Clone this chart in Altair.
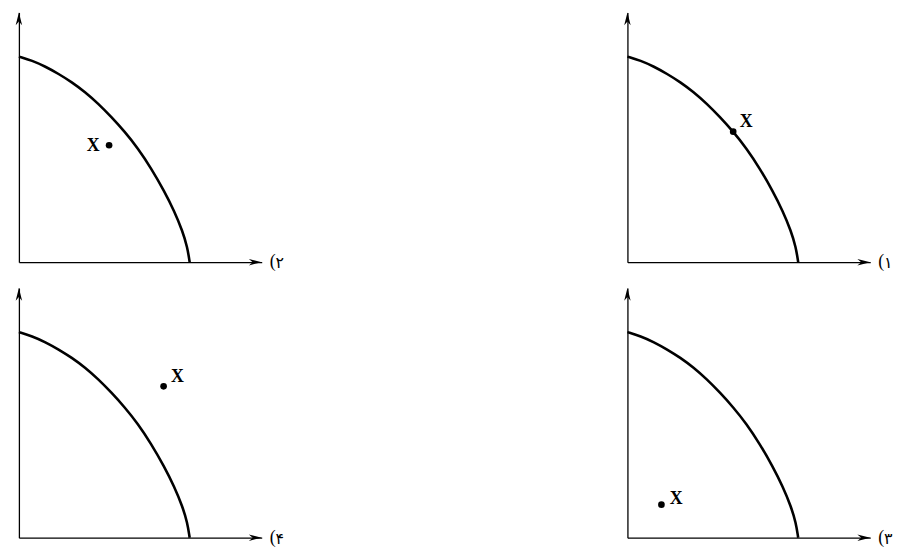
import altair as alt
import pandas as pd

# Production possibility frontier (same curve in every panel)
curve_x = [0.0, 1.33, 2.67, 4.0, 5.33, 6.67, 8.0, 9.33, 10.67, 12.0, 13.33, 14.67, 15.67, 16.5, 17.0, 17.23]
curve_y = [20.74, 20.34, 19.74, 19.0, 18.17, 17.17, 16.0, 14.65, 13.17, 11.5, 9.5, 7.17, 5.17, 3.17, 1.5, 0.0]

# Panels in reading order on the page: top-left, top-right, bottom-left, bottom-right
panel_numbers = ["۲", "۱", "۴", "۳"]
panel_paren = "("
point_x = [9.1, 10.67, 14.6, 3.43]
point_y = [11.8, 13.17, 15.27, 3.33]
point_text = ["X", "X", "X", "X"]

axis_x_end = 24.5
axis_y_end = 25.2

# styles (label offsets in pixels)
x_label_dx = [-16, 13, 14, 15]
x_label_dy = [1, -10, -9, -6]

ARROW_RIGHT = "M0,0L-1,-0.25L-0.7,0L-1,0.25Z"
ARROW_UP = "M0,0L-0.25,1L0,0.7L0.25,1Z"


def panel(i):
    xs = alt.Scale(domain=[0, axis_x_end], nice=False, zero=True)
    ys = alt.Scale(domain=[0, axis_y_end], nice=False, zero=True)
    axis = alt.Axis(labels=False, ticks=False, grid=False, title=None,
                    domainColor="black", domainWidth=1.3)

    curve = pd.DataFrame({"x": curve_x, "y": curve_y})
    line = alt.Chart(curve).mark_line(
        color="black", strokeWidth=2.6, interpolate="basis"
    ).encode(
        x=alt.X("x:Q", scale=xs, axis=axis),
        y=alt.Y("y:Q", scale=ys, axis=axis),
    )

    ends = pd.DataFrame({"x": [axis_x_end, 0.0], "y": [0.0, axis_y_end]})
    arrow_r = alt.Chart(ends.iloc[[0]]).mark_point(
        shape=ARROW_RIGHT, size=676, filled=True, color="black", opacity=1
    ).encode(x=alt.X("x:Q", scale=xs), y=alt.Y("y:Q", scale=ys))
    arrow_u = alt.Chart(ends.iloc[[1]]).mark_point(
        shape=ARROW_UP, size=676, filled=True, color="black", opacity=1
    ).encode(x=alt.X("x:Q", scale=xs), y=alt.Y("y:Q", scale=ys))

    lab = pd.DataFrame({"x": [axis_x_end], "y": [0.0],
                        "p": [panel_paren], "n": [panel_numbers[i]]})
    paren = alt.Chart(lab).mark_text(
        align="left", baseline="middle", dx=8, dy=0, fontSize=18,
        font="Liberation Serif", color="black"
    ).encode(x=alt.X("x:Q", scale=xs), y=alt.Y("y:Q", scale=ys), text="p:N")
    number = alt.Chart(lab).mark_text(
        align="left", baseline="middle", dx=14, dy=1, fontSize=16,
        font="DejaVu Sans", color="black"
    ).encode(x=alt.X("x:Q", scale=xs), y=alt.Y("y:Q", scale=ys), text="n:N")

    pt = pd.DataFrame({"x": [point_x[i]], "y": [point_y[i]], "t": [point_text[i]]})
    dot = alt.Chart(pt).mark_point(
        filled=True, size=45, color="black", opacity=1
    ).encode(x=alt.X("x:Q", scale=xs), y=alt.Y("y:Q", scale=ys))
    xtext = alt.Chart(pt).mark_text(
        align="center", baseline="middle", dx=x_label_dx[i], dy=x_label_dy[i],
        fontSize=18, font="Liberation Serif", fontWeight="bold", color="black"
    ).encode(x=alt.X("x:Q", scale=xs), y=alt.Y("y:Q", scale=ys), text="t:N")

    return alt.layer(line, arrow_r, arrow_u, paren, number, dot, xtext).properties(
        width=245, height=252
    )


chart = alt.ConcatChart(
    concat=[panel(i) for i in range(4)],
    columns=2,
    spacing={"row": 26, "column": 369},
    bounds="flush",
).properties(
    padding={"left": 5, "top": 2, "right": 5, "bottom": 5}
).configure_view(stroke=None)

chart.save("out.html", embed_options={"renderer": "svg", "actions": False})
